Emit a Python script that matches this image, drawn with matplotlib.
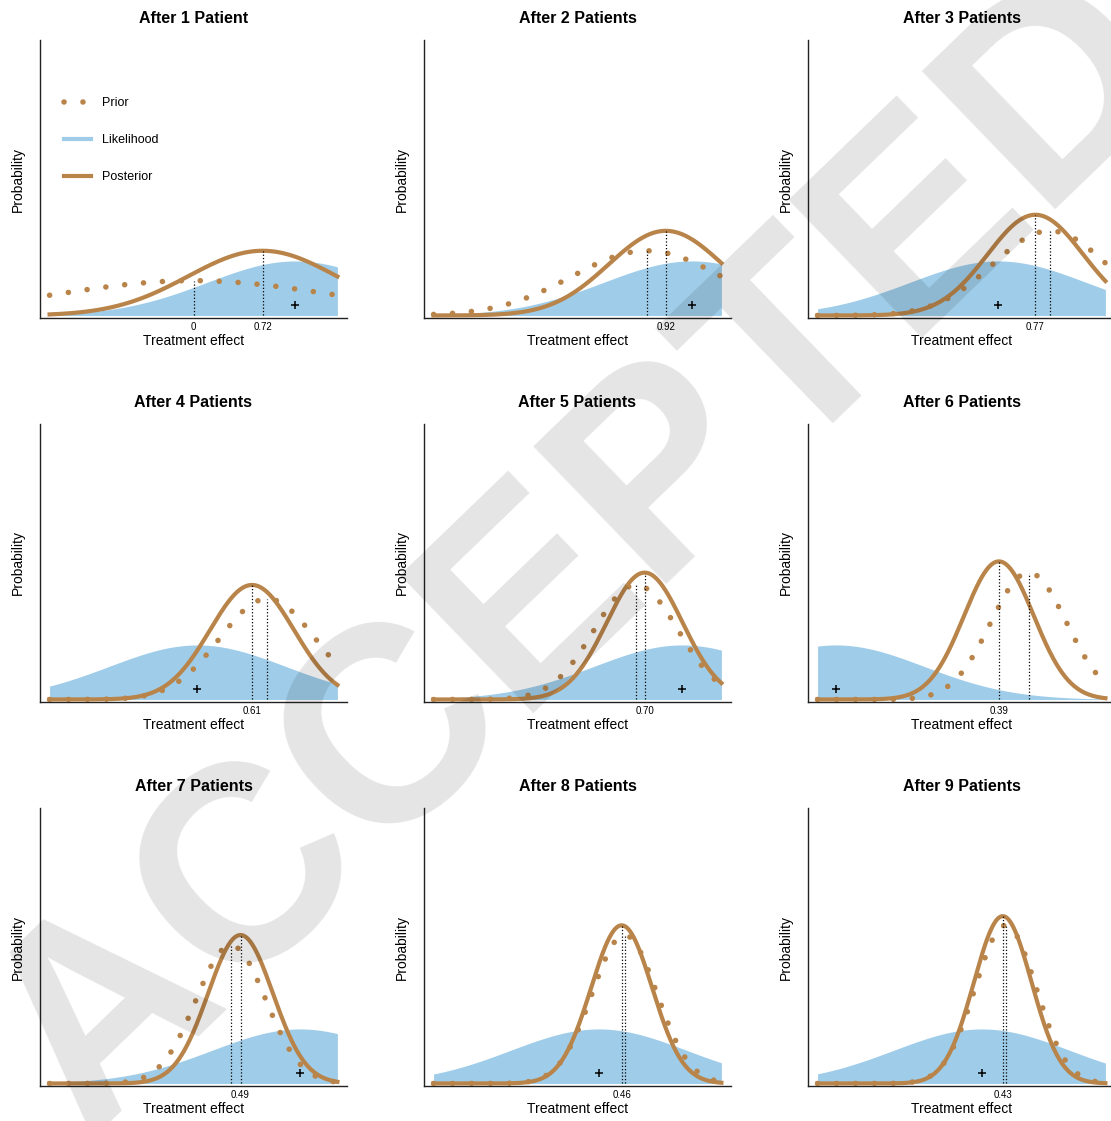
import matplotlib
matplotlib.use("Agg")
import matplotlib.pyplot as plt
import numpy as np
from matplotlib.lines import Line2D

# observed treatment effect of each new patient (the "+" marks)
observed = [1.06, 1.19, 0.38, 0.04, 1.09, -1.31, 1.11, 0.22, 0.21]
# posterior means printed under each panel
posterior_mean = [0.72, 0.92, 0.77, 0.61, 0.70, 0.39, 0.49, 0.46, 0.43]
prior_mean0 = 0.0
prior_sd0 = 1.44
obs_sd = 0.92
titles = ["After 1 Patient"] + [f"After {n} Patients" for n in range(2, 10)]

BROWN = "#b9844a"
BLUE = "#9fcde9"

plt.rcParams["font.family"] = ["Liberation Sans", "DejaVu Sans"]


def normal(x, mu, sd):
    return np.exp(-0.5 * ((x - mu) / sd) ** 2) / (sd * np.sqrt(2 * np.pi))


W, H = 1111, 1121
fig = plt.figure(figsize=(W / 100, H / 100), dpi=100)

x = np.linspace(-1.5, 1.5, 400)
prior_m, prior_prec = prior_mean0, 1 / prior_sd0**2
obs_prec = 1 / obs_sd**2
dots = dict(color=BROWN, lw=4.0, linestyle=(0, (0.01, 3.4)),
            dash_capstyle="round", solid_capstyle="round")

for i in range(9):
    r, c = divmod(i, 3)
    left, top = 40 + 384 * c, 40 + 384 * r
    ax = fig.add_axes([left / W, 1 - (top + 278) / H, 307 / W, 278 / H])

    prior_sd = 1 / np.sqrt(prior_prec)
    post_prec = prior_prec + obs_prec
    post_sd = 1 / np.sqrt(post_prec)
    post_m = posterior_mean[i]

    ax.fill_between(x, 0, normal(x, observed[i], obs_sd), color=BLUE, lw=0, zorder=1)
    ax.plot(x, normal(x, prior_m, prior_sd), zorder=2, **dots)
    ax.plot(x, normal(x, post_m, post_sd), color=BROWN, lw=3.0, zorder=3)
    ax.vlines([prior_m, post_m],
              0, [normal(prior_m, prior_m, prior_sd), normal(post_m, post_m, post_sd)],
              colors="k", linestyles=":", lw=0.9, zorder=4)
    ax.plot(observed[i], 0.085, marker="+", color="k", ms=6, mew=1.1, zorder=5)

    if i == 0:
        ax.set_xticks([prior_m, post_m], ["0", f"{post_m:.2f}"])
    else:
        ax.set_xticks([post_m], [f"{post_m:.2f}"])
    ax.tick_params(axis="x", length=0, pad=3, labelsize=7)
    ax.set_yticks([])
    ax.set_xlim(-1.6, 1.6)
    ax.set_ylim(-0.02, 2.19)
    for s in ("top", "right"):
        ax.spines[s].set_visible(False)
    for s in ("left", "bottom"):
        ax.spines[s].set_color("#222222")
        ax.spines[s].set_linewidth(1.0)
    ax.set_title(titles[i], fontsize=11.5, fontweight="bold", pad=12)
    ax.set_xlabel("Treatment effect", fontsize=10, labelpad=1)
    ax.set_ylabel("Probability", fontsize=10, labelpad=11)

    if i == 0:
        handles = [Line2D([], [], **dots),
                   Line2D([], [], color=BLUE, lw=3.0),
                   Line2D([], [], color=BROWN, lw=3.0)]
        ax.legend(handles, ["Prior", "Likelihood", "Posterior"], loc="upper left",
                  bbox_to_anchor=(0.04, 0.835), frameon=False, fontsize=9,
                  handlelength=2.2, handletextpad=0.9, labelspacing=2.0)

    prior_m, prior_prec = post_m, post_prec

# watermark
fig.text(585 / W, 1 - 556 / H, "ACCEPTED", rotation=44, ha="center", va="center",
         rotation_mode="anchor", fontsize=200, fontweight="bold",
         color="k", alpha=0.105, zorder=10)

fig.savefig("out.png", dpi=100)
